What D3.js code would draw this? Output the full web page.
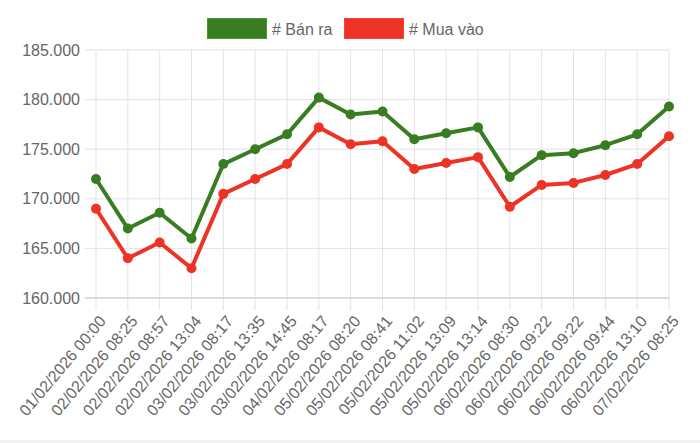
<!DOCTYPE html>
<html>
<head>
<meta charset="utf-8">
<script src="https://cdn.jsdelivr.net/npm/d3@7"></script>
<style>
  body { margin: 0; background: #fff; }
  svg { display: block; font-family: "Liberation Sans", Arial, Helvetica, sans-serif; }
</style>
</head>
<body>
<div id="chart"></div>
<script>
// labels along the x axis
const labels = [
  '01/02/2026 00:00', '02/02/2026 08:25', '02/02/2026 08:57', '02/02/2026 13:04',
  '03/02/2026 08:17', '03/02/2026 13:35', '03/02/2026 14:45', '04/02/2026 08:17',
  '05/02/2026 08:20', '05/02/2026 08:41', '05/02/2026 11:02', '05/02/2026 13:09',
  '05/02/2026 13:14', '06/02/2026 08:30', '06/02/2026 09:22', '06/02/2026 09:22',
  '06/02/2026 09:44', '06/02/2026 13:10', '07/02/2026 08:25'
];
// selling price
const banRa = [172000, 167000, 168600, 166000, 173500, 175000, 176500, 180200, 178500, 178800,
  176000, 176600, 177200, 172200, 174400, 174600, 175400, 176500, 179300];
// buying price
const muaVao = [169000, 164000, 165600, 163000, 170500, 172000, 173500, 177200, 175500, 175800,
  173000, 173600, 174200, 169200, 171400, 171600, 172400, 173500, 176300];
const yTicks = [160000, 165000, 170000, 175000, 180000, 185000];

const series = [
  { name: '# Bán ra', values: banRa, color: '#387d22' },
  { name: '# Mua vào', values: muaVao, color: '#ec3326' }
];

const width = 700, height = 443;
const plotLeft = 96, plotRight = 669, plotTop = 50, plotBottom = 298;

const svg = d3.select('#chart').append('svg')
  .attr('width', width)
  .attr('height', height);

const x = d3.scalePoint().domain(d3.range(labels.length)).range([plotLeft, plotRight]);
const y = d3.scaleLinear().domain([160000, 185000]).range([plotBottom, plotTop]);

const fmt = v => d3.format(',')(v).replace(/,/g, '.');

// grid
const grid = svg.append('g');
grid.selectAll('line.v')
  .data(d3.range(labels.length))
  .enter().append('line')
  .attr('x1', d => x(d)).attr('x2', d => x(d))
  .attr('y1', plotTop).attr('y2', plotBottom + 12)
  .attr('stroke', '#e3e3e3').attr('stroke-width', 1);
grid.selectAll('line.h')
  .data(yTicks)
  .enter().append('line')
  .attr('x1', plotLeft - 11).attr('x2', plotRight)
  .attr('y1', d => y(d)).attr('y2', d => y(d))
  .attr('stroke', d => d === 160000 ? '#dcdcdc' : '#e3e3e3')
  .attr('stroke-width', d => d === 160000 ? 2 : 1);

// y axis labels
const yAxis = svg.append('g')
  .attr('transform', `translate(${plotLeft - 10},0)`)
  .call(d3.axisLeft(y).tickValues(yTicks).tickFormat(fmt).tickSize(0).tickPadding(6));
yAxis.select('.domain').remove();
yAxis.selectAll('text')
  .attr('font-size', 16).attr('fill', '#666')
  .attr('font-family', '"Liberation Sans", Arial, sans-serif');

// x axis labels, rotated like the original
const xAxis = svg.append('g')
  .attr('transform', `translate(0,${plotBottom})`)
  .call(d3.axisBottom(x).tickFormat(i => labels[i]).tickSize(0));
xAxis.select('.domain').remove();
xAxis.selectAll('text')
  .attr('font-size', 16).attr('fill', '#666')
  .attr('font-family', '"Liberation Sans", Arial, sans-serif')
  .attr('text-anchor', 'end')
  .attr('dy', null)
  .attr('y', 0)
  .attr('dominant-baseline', 'central')
  .attr('transform', 'translate(6,20) rotate(-50)');

// lines + points
const line = d3.line().x((d, i) => x(i)).y(d => y(d));
series.forEach(s => {
  svg.append('path')
    .datum(s.values)
    .attr('d', line)
    .attr('fill', 'none')
    .attr('stroke', s.color)
    .attr('stroke-width', 4)
    .attr('stroke-linejoin', 'round');
  svg.append('g').selectAll('circle')
    .data(s.values)
    .enter().append('circle')
    .attr('cx', (d, i) => x(i))
    .attr('cy', d => y(d))
    .attr('r', 5)
    .attr('fill', s.color);
});

// legend
const legendX = [207, 344];
const legend = svg.append('g');
series.forEach((s, i) => {
  legend.append('rect')
    .attr('x', legendX[i] + 0.5).attr('y', 18.5)
    .attr('width', 59).attr('height', 20)
    .attr('fill', s.color)
    .attr('stroke', d3.color(s.color).brighter(0.6))
    .attr('stroke-width', 1);
  legend.append('text')
    .attr('x', legendX[i] + 65).attr('y', 29)
    .attr('dominant-baseline', 'central')
    .attr('font-size', 16).attr('fill', '#666')
    .text(s.name);
});

// bottom strip
svg.append('rect')
  .attr('x', 0).attr('y', 440).attr('width', width).attr('height', 3)
  .attr('fill', '#f3f3f3');
</script>
</body>
</html>
